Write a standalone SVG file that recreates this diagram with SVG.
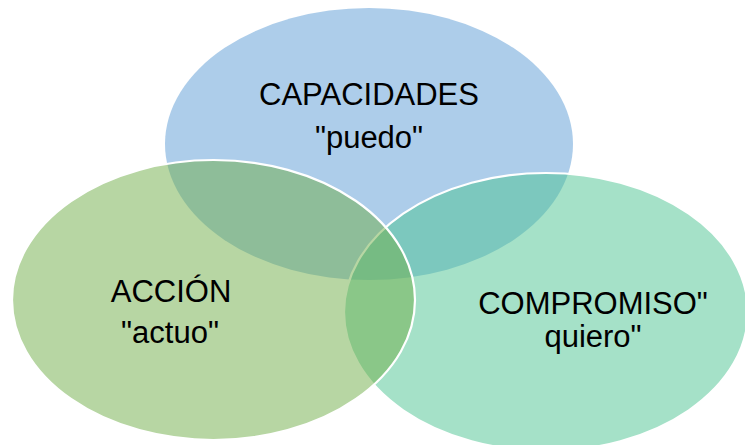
<svg xmlns="http://www.w3.org/2000/svg" width="745" height="445" viewBox="0 0 745 445">
<style>
.c{stroke:#ffffff;stroke-width:2.2}
.t{font-family:"Liberation Sans",Arial,sans-serif;font-size:31px;fill:#000000;text-anchor:middle}
</style>
<rect width="745" height="445" fill="#ffffff"/>
<g id="capacidades">
<ellipse cx="369" cy="144" rx="204" ry="136" fill="#5B9BD5" fill-opacity="0.5"/>
</g>
<g id="compromiso">
<ellipse class="c" cx="546" cy="312" rx="202" ry="139" fill="#4BC391" fill-opacity="0.5"/>
</g>
<g id="accion">
<ellipse class="c" cx="213.5" cy="300" rx="201.5" ry="140" fill="#70AD47" fill-opacity="0.5"/>
</g>
<g id="labels">
<text class="t" x="369" y="105">CAPACIDADES</text>
<text class="t" x="369" y="148">"puedo"</text>
<text class="t" x="171" y="302">ACCIÓN</text>
<text class="t" x="170" y="343">"actuo"</text>
<text class="t" x="593" y="314">COMPROMISO"</text>
<text class="t" x="593" y="347">quiero"</text>
</g>
</svg>
